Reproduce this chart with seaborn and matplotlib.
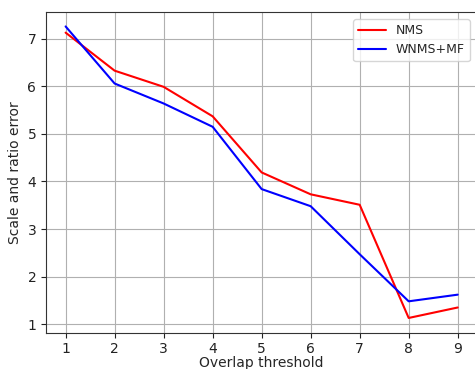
import matplotlib
matplotlib.use("Agg")
import matplotlib.pyplot as plt
import seaborn as sns
import pandas as pd

thresholds = [1, 2, 3, 4, 5, 6, 7, 8, 9]
nms = [7.13, 6.33, 5.99, 5.37, 4.19, 3.73, 3.51, 1.13, 1.35]
wnms_mf = [7.26, 6.06, 5.64, 5.15, 3.84, 3.48, 2.47, 1.48, 1.62]

sns.set_style("ticks")
plt.rcParams['font.family'] = ['DejaVu Sans']

df = pd.DataFrame({
    "Overlap threshold": thresholds * 2,
    "value": nms + wnms_mf,
    "method": ["NMS"] * len(thresholds) + ["WNMS+MF"] * len(thresholds),
})

fig = plt.figure(figsize=(4.75, 3.69), dpi=100)
ax = fig.add_axes([46 / 475, 36.3 / 369, 431.3 / 475, 321 / 369])
sns.lineplot(data=df, x="Overlap threshold", y="value", hue="method",
             palette={"NMS": "#ff0000", "WNMS+MF": "#0000ff"}, ax=ax,
             linewidth=1.5)
ax.set_xticks(thresholds)
ax.set_xlim(0.6, 9.4)
ax.set_ylim(0.82, 7.57)
ax.grid(True, color="#b0b0b0", linewidth=0.8)
ax.set_ylabel("Scale and ratio error")
ax.set_xlabel("Overlap threshold", labelpad=0)
for s in ax.spines.values():
    s.set_color("#333333")
ax.tick_params(colors="#222222")
leg = ax.legend(loc="upper right", frameon=True, fontsize=9,
                handlelength=2.2, borderaxespad=0.6)
leg.set_title(None)
fig.savefig("out.png", dpi=100)
